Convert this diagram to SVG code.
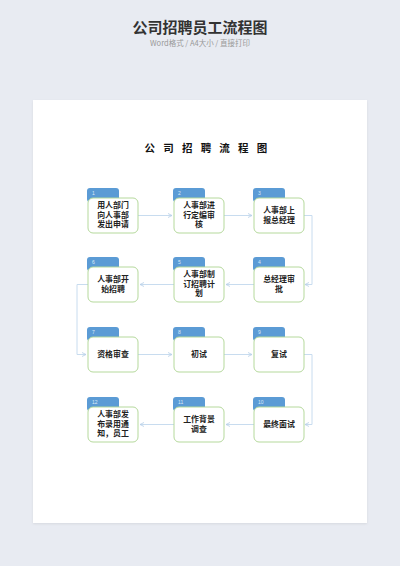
<svg xmlns="http://www.w3.org/2000/svg" width="400" height="566" viewBox="0 0 400 566">
<defs>
<style>
.tab{fill:#5b9bd5}
.box{fill:#fff;stroke:#b5d99c;stroke-width:1}
.num{fill:#dbe9f7;font-family:"Liberation Sans",sans-serif;font-size:5px}
.t{fill:#222;font-family:"Noto Sans CJK SC",sans-serif;font-size:7.9px;font-weight:bold;text-anchor:middle}
.c{fill:none;stroke:#c8dcef;stroke-width:1}
</style>
<marker id="a" viewBox="0 0 6 6" refX="5" refY="3" markerWidth="5" markerHeight="5" orient="auto">
<path d="M0,0.5 L5,3 L0,5.5" fill="none" stroke="#b8d0e8" stroke-width="1"/>
</marker>
<filter id="sh" x="-5%" y="-5%" width="110%" height="110%">
<feDropShadow dx="0" dy="1" stdDeviation="1.2" flood-color="#000" flood-opacity="0.08"/>
</filter>
</defs>
<rect width="400" height="566" fill="#e8ebf2"/>
<text x="200" y="33" text-anchor="middle" font-family="Noto Sans CJK SC,sans-serif" font-size="15" font-weight="bold" fill="#333">公司招聘员工流程图</text>
<text x="200" y="46" text-anchor="middle" font-family="Noto Sans CJK SC,sans-serif" font-size="7.5" fill="#999">Word格式 / A4大小 / 直接打印</text>
<rect x="33" y="100" width="334" height="423" fill="#fff" filter="url(#sh)"/>
<text x="210" y="152" text-anchor="middle" font-family="Noto Sans CJK SC,sans-serif" font-size="10.5" font-weight="bold" fill="#111" letter-spacing="8.2">公司招聘流程图</text>

<g id="connectors">
<path class="c" d="M138,215.5 H172" marker-end="url(#a)"/>
<path class="c" d="M224,215.5 H252" marker-end="url(#a)"/>
<path class="c" d="M304,215.5 H312 V284.5 H305" marker-end="url(#a)"/>
<path class="c" d="M254,284.5 H226" marker-end="url(#a)"/>
<path class="c" d="M174,284.5 H140" marker-end="url(#a)"/>
<path class="c" d="M88,284.5 H77 V354.5 H86" marker-end="url(#a)"/>
<path class="c" d="M138,354.5 H172" marker-end="url(#a)"/>
<path class="c" d="M224,354.5 H252" marker-end="url(#a)"/>
<path class="c" d="M304,354.5 H312 V424.5 H305" marker-end="url(#a)"/>
<path class="c" d="M254,424.5 H226" marker-end="url(#a)"/>
<path class="c" d="M174,424.5 H140" marker-end="url(#a)"/>
</g>

<g id="n1"><rect class="tab" x="87" y="188" width="32" height="14" rx="3"/><text class="num" x="92" y="195">1</text><rect class="box" x="88" y="198" width="50" height="35" rx="5"/><text class="t" x="113" y="208">用人部门</text><text class="t" x="113" y="217.5">向人事部</text><text class="t" x="113" y="227">发出申请</text></g>
<g id="n2"><rect class="tab" x="173" y="188" width="32" height="14" rx="3"/><text class="num" x="178" y="195">2</text><rect class="box" x="174" y="198" width="50" height="35" rx="5"/><text class="t" x="199" y="208">人事部进</text><text class="t" x="199" y="217.5">行定编审</text><text class="t" x="199" y="227">核</text></g>
<g id="n3"><rect class="tab" x="253" y="188" width="32" height="14" rx="3"/><text class="num" x="258" y="195">3</text><rect class="box" x="254" y="198" width="50" height="35" rx="5"/><text class="t" x="279" y="213">人事部上</text><text class="t" x="279" y="222.5">报总经理</text></g>

<g id="n4"><rect class="tab" x="253" y="257" width="32" height="14" rx="3"/><text class="num" x="258" y="264">4</text><rect class="box" x="254" y="267" width="50" height="35" rx="5"/><text class="t" x="279" y="282">总经理审</text><text class="t" x="279" y="291.5">批</text></g>
<g id="n5"><rect class="tab" x="173" y="257" width="32" height="14" rx="3"/><text class="num" x="178" y="264">5</text><rect class="box" x="174" y="267" width="50" height="35" rx="5"/><text class="t" x="199" y="277">人事部制</text><text class="t" x="199" y="286.5">订招聘计</text><text class="t" x="199" y="296">划</text></g>
<g id="n6"><rect class="tab" x="87" y="257" width="32" height="14" rx="3"/><text class="num" x="92" y="264">6</text><rect class="box" x="88" y="267" width="50" height="35" rx="5"/><text class="t" x="113" y="282">人事部开</text><text class="t" x="113" y="291.5">始招聘</text></g>

<g id="n7"><rect class="tab" x="87" y="327" width="32" height="14" rx="3"/><text class="num" x="92" y="334">7</text><rect class="box" x="88" y="337" width="50" height="35" rx="5"/><text class="t" x="113" y="357">资格审查</text></g>
<g id="n8"><rect class="tab" x="173" y="327" width="32" height="14" rx="3"/><text class="num" x="178" y="334">8</text><rect class="box" x="174" y="337" width="50" height="35" rx="5"/><text class="t" x="199" y="357">初试</text></g>
<g id="n9"><rect class="tab" x="253" y="327" width="32" height="14" rx="3"/><text class="num" x="258" y="334">9</text><rect class="box" x="254" y="337" width="50" height="35" rx="5"/><text class="t" x="279" y="357">复试</text></g>

<g id="n10"><rect class="tab" x="253" y="397" width="32" height="14" rx="3"/><text class="num" x="258" y="404">10</text><rect class="box" x="254" y="407" width="50" height="35" rx="5"/><text class="t" x="279" y="427">最终面试</text></g>
<g id="n11"><rect class="tab" x="173" y="397" width="32" height="14" rx="3"/><text class="num" x="178" y="404">11</text><rect class="box" x="174" y="407" width="50" height="35" rx="5"/><text class="t" x="199" y="422">工作背景</text><text class="t" x="199" y="431.5">调查</text></g>
<g id="n12"><rect class="tab" x="87" y="397" width="32" height="14" rx="3"/><text class="num" x="92" y="404">12</text><rect class="box" x="88" y="407" width="50" height="35" rx="5"/><text class="t" x="113" y="417">人事部发</text><text class="t" x="113" y="426.5">布录用通</text><text class="t" x="113" y="436">知，员工</text></g>
</svg>
